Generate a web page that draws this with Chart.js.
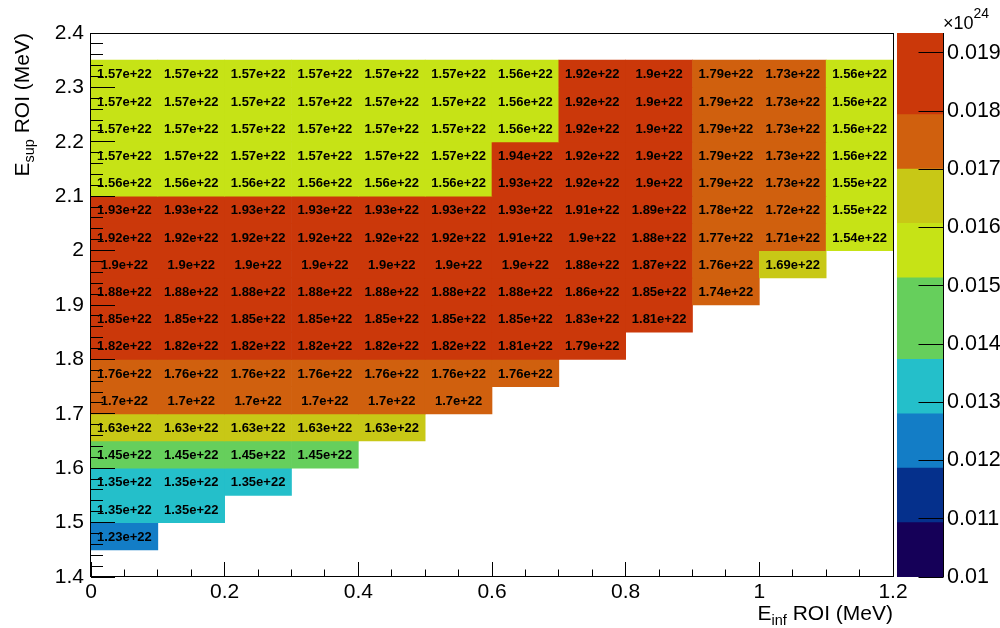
<!DOCTYPE html>
<html>
<head>
<meta charset="utf-8">
<script src="https://cdn.jsdelivr.net/npm/chart.js@4/dist/chart.umd.min.js"></script>
<style>
html,body{margin:0;padding:0;background:#fff;}
#wrap{position:relative;width:1000px;height:628px;overflow:hidden;}
#wrap canvas{position:absolute;left:0;top:0;}
</style>
</head>
<body>
<div id="wrap">
<canvas id="main" width="1000" height="628"></canvas>
<canvas id="cbar" width="1000" height="628"></canvas>
</div>
<script>
// ---------------- DATA ----------------
// E_inf ROI bins (MeV): centres used as categories, 0.1 wide, 0 .. 1.2
const xBins = ['0.05','0.15','0.25','0.35','0.45','0.55','0.65','0.75','0.85','0.95','1.05','1.15'];
// E_sup ROI bins (MeV), listed top row first
const rowLow  = [2.30, 2.25, 2.20, 2.15, 2.10, 2.05, 2.00, 1.95, 1.90, 1.85, 1.80, 1.75, 1.70, 1.65, 1.60, 1.55, 1.50, 1.45];
const rowHigh = [2.35, 2.30, 2.25, 2.20, 2.15, 2.10, 2.05, 2.00, 1.95, 1.90, 1.85, 1.80, 1.75, 1.70, 1.65, 1.60, 1.55, 1.50];

// cell values in units of 1e22 (null = empty bin)
const row_2_30 = [1.57,1.57,1.57,1.57,1.57,1.57,1.56,1.92,1.9,1.79,1.73,1.56];
const row_2_25 = [1.57,1.57,1.57,1.57,1.57,1.57,1.56,1.92,1.9,1.79,1.73,1.56];
const row_2_20 = [1.57,1.57,1.57,1.57,1.57,1.57,1.56,1.92,1.9,1.79,1.73,1.56];
const row_2_15 = [1.57,1.57,1.57,1.57,1.57,1.57,1.94,1.92,1.9,1.79,1.73,1.56];
const row_2_10 = [1.56,1.56,1.56,1.56,1.56,1.56,1.93,1.92,1.9,1.79,1.73,1.55];
const row_2_05 = [1.93,1.93,1.93,1.93,1.93,1.93,1.93,1.91,1.89,1.78,1.72,1.55];
const row_2_00 = [1.92,1.92,1.92,1.92,1.92,1.92,1.91,1.9,1.88,1.77,1.71,1.54];
const row_1_95 = [1.9,1.9,1.9,1.9,1.9,1.9,1.9,1.88,1.87,1.76,1.69,null];
const row_1_90 = [1.88,1.88,1.88,1.88,1.88,1.88,1.88,1.86,1.85,1.74,null,null];
const row_1_85 = [1.85,1.85,1.85,1.85,1.85,1.85,1.85,1.83,1.81,null,null,null];
const row_1_80 = [1.82,1.82,1.82,1.82,1.82,1.82,1.81,1.794,null,null,null,null];
const row_1_75 = [1.76,1.76,1.76,1.76,1.76,1.76,1.76,null,null,null,null,null];
const row_1_70 = [1.702,1.702,1.702,1.702,1.702,1.702,null,null,null,null,null,null];
const row_1_65 = [1.63,1.63,1.63,1.63,1.63,null,null,null,null,null,null,null];
const row_1_60 = [1.45,1.45,1.45,1.45,null,null,null,null,null,null,null,null];
const row_1_55 = [1.35,1.35,1.35,null,null,null,null,null,null,null,null,null];
const row_1_50 = [1.35,1.35,null,null,null,null,null,null,null,null,null,null];
const row_1_45 = [1.23,null,null,null,null,null,null,null,null,null,null,null];
const rowValues = [row_2_30,row_2_25,row_2_20,row_2_15,row_2_10,row_2_05,row_2_00,row_1_95,row_1_90,
                   row_1_85,row_1_80,row_1_75,row_1_70,row_1_65,row_1_60,row_1_55,row_1_50,row_1_45];

// axis ticks
const xTicks = [0, 0.2, 0.4, 0.6, 0.8, 1, 1.2];
const yTicks = [1.4, 1.5, 1.6, 1.7, 1.8, 1.9, 2, 2.1, 2.2, 2.3, 2.4];
const zTicks = [0.01, 0.011, 0.012, 0.013, 0.014, 0.015, 0.016, 0.017, 0.018, 0.019]; // x10^24
// colour scale (x10^24): band edges and colours
const zMin = 0.01, zMax = 0.01934;
const bandEdges = [0.01, 0.010934, 0.011868, 0.012802, 0.013736, 0.015137, 0.016071, 0.017005, 0.017939, 0.01934];
const bandColors = ['#150058', '#05308c', '#137dc6', '#24bfca', '#66cf5c', '#c6e316', '#c8c816', '#d0600e', '#cb380a'];

// ---------------- HELPERS ----------------
const FONT = "'Liberation Sans', Arial, Helvetica, sans-serif";
Chart.defaults.font.family = FONT;
Chart.defaults.color = '#000';
function fmtTick(v){ return String(+Number(v).toFixed(4)); }
function fmtCell(v){ return (+v.toPrecision(3)) + 'e+22'; }
function colorFor(v){
  const z = v / 100;
  for (let i = bandColors.length - 1; i >= 0; i--) if (z >= bandEdges[i]) return bandColors[i];
  return bandColors[0];
}
function richText(ctx, parts, x, y, align){
  let total = 0;
  parts.forEach(p => { ctx.font = p.size + 'px ' + FONT; p.w = ctx.measureText(p.text).width; total += p.w; });
  let cx = align === 'right' ? x - total : x;
  ctx.textAlign = 'left'; ctx.textBaseline = 'alphabetic';
  parts.forEach(p => { ctx.font = p.size + 'px ' + FONT; ctx.fillText(p.text, cx, y + (p.dy || 0)); cx += p.w; });
}
const tickFont = {size: 21, family: FONT};

// ---------------- MAIN HEATMAP ----------------
const datasets = rowValues.map((vals, r) => ({
  label: 'E_sup ' + rowLow[r].toFixed(2) + '-' + rowHigh[r].toFixed(2) + ' MeV',
  data: vals.map(v => v == null ? null : [rowLow[r], rowHigh[r]]),
  values: vals,
  backgroundColor: vals.map(v => v == null ? 'rgba(0,0,0,0)' : colorFor(v)),
  borderWidth: 0,
  categoryPercentage: 1,
  barPercentage: 1,
  grouped: false
}));

const heatPlugin = {
  id: 'heatDecor',
  afterDatasetsDraw(chart){
    const ctx = chart.ctx, a = chart.chartArea;
    ctx.save();
    // cell texts
    ctx.font = 'bold 13px ' + FONT;
    ctx.fillStyle = '#000';
    ctx.textAlign = 'center';
    ctx.textBaseline = 'middle';
    chart.data.datasets.forEach((ds, i) => {
      const meta = chart.getDatasetMeta(i);
      meta.data.forEach((el, j) => {
        const v = ds.values[j];
        if (v == null) return;
        const p = el.getProps(['x', 'y', 'base'], true);
        ctx.fillText(fmtCell(v), p.x, (p.y + p.base) / 2 + 1);
      });
    });
    // ticks (inside the frame)
    ctx.strokeStyle = '#000';
    ctx.lineWidth = 1;
    ctx.beginPath();
    const xs = chart.scales.xv, ys = chart.scales.y;
    const xSub = 4, ySub = 5;
    xTicks.forEach((m, k) => {
      const px = Math.floor(xs.getPixelForValue(m)) + 0.5;
      ctx.moveTo(px, a.bottom); ctx.lineTo(px, a.bottom - 15);
      if (k < xTicks.length - 1) {
        for (let s = 1; s < xSub; s++) {
          const q = Math.floor(xs.getPixelForValue(m + (xTicks[k + 1] - m) * s / xSub)) + 0.5;
          ctx.moveTo(q, a.bottom); ctx.lineTo(q, a.bottom - 7.5);
        }
      }
    });
    yTicks.forEach((m, k) => {
      const py = Math.floor(ys.getPixelForValue(m)) + 0.5;
      ctx.moveTo(a.left, py); ctx.lineTo(a.left + 24, py);
      if (k < yTicks.length - 1) {
        for (let s = 1; s < ySub; s++) {
          const q = Math.floor(ys.getPixelForValue(m + (yTicks[k + 1] - m) * s / ySub)) + 0.5;
          ctx.moveTo(a.left, q); ctx.lineTo(a.left + 12, q);
        }
      }
    });
    ctx.stroke();
    // frame
    ctx.strokeRect(Math.floor(a.left) - 0.5, Math.floor(a.top) + 0.5, Math.round(a.right - a.left) + 1, Math.round(a.bottom - a.top) - 1);
    ctx.restore();
  },
  afterDraw(chart){
    const ctx = chart.ctx, a = chart.chartArea;
    ctx.save();
    ctx.fillStyle = '#000';
    // x title
    richText(ctx, [{text: 'E', size: 21}, {text: 'inf', size: 14.5, dy: 5}, {text: ' ROI (MeV)', size: 21}], a.right, 620, 'right');
    // y title (rotated)
    ctx.translate(29, a.top);
    ctx.rotate(-Math.PI / 2);
    richText(ctx, [{text: 'E', size: 21}, {text: 'sup', size: 14.5, dy: 5}, {text: ' ROI (MeV)', size: 21}], 0, 0, 'right');
    ctx.restore();
  }
};

new Chart(document.getElementById('main'), {
  type: 'bar',
  data: {labels: xBins, datasets},
  options: {
    responsive: false,
    animation: false,
    devicePixelRatio: 1,
    layout: {padding: {left: 0, top: 33, right: 107, bottom: 0}},
    plugins: {legend: {display: false}, tooltip: {enabled: false}},
    scales: {
      x: {type: 'category', display: false, offset: true},
      xv: {
        type: 'linear', position: 'bottom', min: 0, max: 1.2, offset: false,
        afterBuildTicks: s => { s.ticks = xTicks.map(v => ({value: v})); },
        afterFit: s => { s.height = 51; },
        ticks: {font: tickFont, color: '#000', padding: 3, maxRotation: 0, autoSkip: false, callback: v => fmtTick(v)},
        grid: {display: false, drawTicks: false, offset: false},
        border: {display: false}
      },
      y: {
        type: 'linear', min: 1.4, max: 2.4, offset: false,
        afterBuildTicks: s => { s.ticks = yTicks.map(v => ({value: v})); },
        afterFit: s => { s.width = 91; },
        ticks: {font: tickFont, color: '#000', padding: 7, autoSkip: false, callback: v => fmtTick(v)},
        grid: {display: false, drawTicks: false},
        border: {display: false}
      }
    }
  },
  plugins: [heatPlugin]
});

// ---------------- COLOUR BAR ----------------
const cbarDatasets = bandColors.map((c, i) => ({
  label: 'band ' + i,
  data: [[bandEdges[i], bandEdges[i + 1]]],
  backgroundColor: c,
  borderWidth: 0,
  categoryPercentage: 1,
  barPercentage: 1,
  grouped: false
}));

const cbarPlugin = {
  id: 'cbarDecor',
  afterDatasetsDraw(chart){
    const ctx = chart.ctx, a = chart.chartArea, ys = chart.scales.y;
    ctx.save();
    ctx.strokeStyle = '#000';
    ctx.lineWidth = 1;
    ctx.beginPath();
    const rx = Math.round(a.right) - 0.5;
    ctx.moveTo(rx, a.top); ctx.lineTo(rx, a.bottom);
    zTicks.forEach(v => {
      const py = Math.floor(ys.getPixelForValue(v)) + 0.5;
      ctx.moveTo(rx, py); ctx.lineTo(rx - 25, py);
    });
    ctx.stroke();
    ctx.restore();
  },
  afterDraw(chart){
    const ctx = chart.ctx, a = chart.chartArea;
    ctx.save();
    ctx.fillStyle = '#000';
    richText(ctx, [{text: '\u00d710', size: 18}, {text: '24', size: 14, dy: -11}], a.right - 1, 29, 'left');
    ctx.restore();
  }
};

new Chart(document.getElementById('cbar'), {
  type: 'bar',
  data: {labels: ['z'], datasets: cbarDatasets},
  options: {
    responsive: false,
    animation: false,
    devicePixelRatio: 1,
    layout: {padding: {left: 897, top: 33, right: 0, bottom: 51}},
    plugins: {legend: {display: false}, tooltip: {enabled: false}},
    scales: {
      x: {type: 'category', display: false, offset: true},
      y: {
        type: 'linear', position: 'right', min: zMin, max: zMax,
        afterBuildTicks: s => { s.ticks = zTicks.map(v => ({value: v})); },
        afterFit: s => { s.width = 56; },
        ticks: {font: {size: 21.5, family: FONT}, color: '#000', padding: 3, autoSkip: false, callback: v => fmtTick(v)},
        grid: {display: false, drawTicks: false},
        border: {display: false}
      }
    }
  },
  plugins: [cbarPlugin]
});
</script>
</body>
</html>
